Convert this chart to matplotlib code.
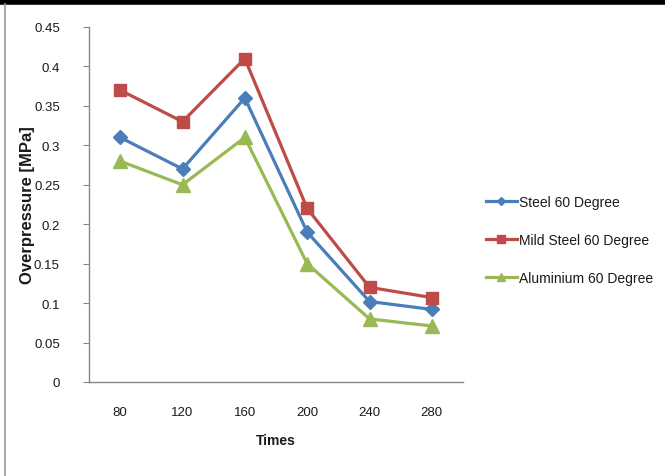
import matplotlib
matplotlib.use("Agg")
import matplotlib.pyplot as plt
from matplotlib.lines import Line2D
import numpy as np

times = ["80", "120", "160", "200", "240", "280"]
steel = [0.31, 0.27, 0.36, 0.19, 0.102, 0.092]
mild_steel = [0.37, 0.33, 0.41, 0.22, 0.12, 0.107]
aluminium = [0.28, 0.25, 0.31, 0.15, 0.08, 0.071]
series_names = ["Steel 60 Degree", "Mild Steel 60 Degree", "Aluminium 60 Degree"]
y_ticks = [0, 0.05, 0.1, 0.15, 0.2, 0.25, 0.3, 0.35, 0.4, 0.45]
y_tick_labels = ["0", "0.05", "0.1", "0.15", "0.2", "0.25", "0.3", "0.35", "0.4", "0.45"]

plt.rcParams['font.family'] = ['Liberation Sans', 'DejaVu Sans']

W, H = 665, 477
fig = plt.figure(figsize=(W / 100, H / 100), dpi=100)
ax = fig.add_axes([89 / W, (H - 383) / H, (463 - 89) / W, (383 - 28) / H])

x = np.arange(len(times))
colors = ["#4A7EBB", "#BE4B48", "#98B954"]
markers = ["D", "s", "^"]
msizes = [7.5, 9, 9.5]
for vals, name, c, m, ms in zip([steel, mild_steel, aluminium], series_names, colors, markers, msizes):
    ax.plot(x, vals, color=c, lw=2.3, marker=m, markersize=ms, markeredgecolor=c, label=name)

ax.set_xlim(-0.5, len(times) - 0.5)
ax.set_ylim(0, 0.45)
ax.set_xticks(x)
ax.set_xticklabels(times)
ax.set_yticks(y_ticks)
ax.set_yticklabels(y_tick_labels)

for s in ["top", "right"]:
    ax.spines[s].set_visible(False)
axis_col = "#868686"
ax.spines["left"].set_color(axis_col)
ax.spines["bottom"].set_color(axis_col)
ax.spines["left"].set_linewidth(1.0)
ax.spines["bottom"].set_linewidth(1.0)
ax.tick_params(axis="y", direction="out", length=4, color=axis_col, labelsize=9.5, labelcolor="#1a1a1a", pad=17)
ax.tick_params(axis="x", length=0, labelsize=9.5, labelcolor="#1a1a1a", pad=17)

ax.set_xlabel("Times", fontsize=10, fontweight="bold", color="#1a1a1a", labelpad=11)
ax.set_ylabel("Overpressure [MPa]", fontsize=12, fontweight="bold", color="#1a1a1a")
ax.yaxis.label.set_va("center")
ax.yaxis.set_label_coords((28 - 89) / 374, 0.5)

leg = ax.legend(loc="center left", bbox_to_anchor=(1.032, 0.40), frameon=False,
                fontsize=10, handlelength=2.2, handletextpad=0.15, labelspacing=1.75,
                markerscale=0.6, labelcolor="#1a1a1a", borderaxespad=0.4)

# frame lines of the picture
fig.add_artist(Line2D([0, 1], [1 - 2.5 / H, 1 - 2.5 / H], color="black", lw=4, transform=fig.transFigure))
fig.add_artist(Line2D([5.5 / W, 5.5 / W], [0, 1 - 5 / H], color="#9a9a9a", lw=1.2, transform=fig.transFigure))

fig.savefig("out.png", dpi=100)
